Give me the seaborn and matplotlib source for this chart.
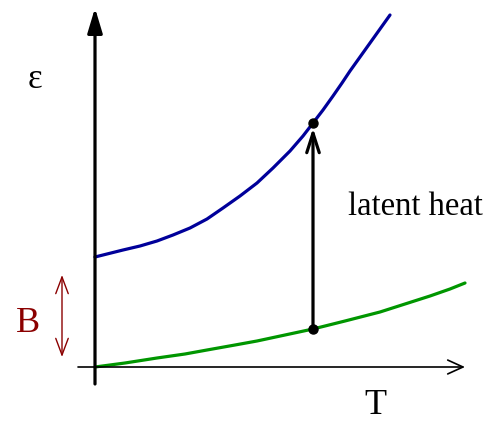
import matplotlib
matplotlib.use("Agg")
import matplotlib.pyplot as plt
import seaborn as sns
import pandas as pd

# energy curves (T, energy)
blue_T = [0.00, 0.28, 0.45, 0.62, 0.78, 0.95, 1.12, 1.28, 1.45, 1.62, 1.78, 1.95,
          2.08, 2.18, 2.28, 2.38, 2.47, 2.55, 2.65, 2.75, 2.85, 2.95]
blue_E = [1.10, 1.17, 1.21, 1.26, 1.32, 1.39, 1.48, 1.59, 1.71, 1.84, 1.99, 2.16,
          2.31, 2.44, 2.57, 2.71, 2.84, 2.96, 3.10, 3.24, 3.38, 3.52]
green_T = [0.00, 0.30, 0.62, 0.90, 1.12, 1.40, 1.62, 1.90, 2.18, 2.50, 2.85, 3.10, 3.35, 3.55, 3.70]
green_E = [0.00, 0.04, 0.09, 0.13, 0.17, 0.22, 0.26, 0.32, 0.38, 0.46, 0.55, 0.63, 0.71, 0.78, 0.84]

# transition temperature and gap B
T_c = 2.18
B_low, B_high = 0.10, 0.92

blue = pd.DataFrame({"T": blue_T, "E": blue_E})
green = pd.DataFrame({"T": green_T, "E": green_E})

sns.set_style("white")
plt.rcParams["font.family"] = ["Liberation Serif", "DejaVu Serif"]
plt.rcParams["text.color"] = "black"

fig = plt.figure(figsize=(4.91, 4.22), dpi=100)
ax = fig.add_axes([0, 0, 1, 1])
ax.set_xlim(-0.95, 3.96)
ax.set_ylim(-0.55, 3.67)
ax.axis("off")

sns.lineplot(data=blue, x="T", y="E", color="#00009a", lw=2.3, ax=ax, sort=False)
sns.lineplot(data=green, x="T", y="E", color="#009600", lw=2.3, ax=ax, sort=False)

# axes with arrows
ax.annotate("", xy=(0, 3.59), xytext=(0, -0.17),
            arrowprops=dict(arrowstyle="-|>,head_length=1.5,head_width=0.45", lw=2.3,
                            color="black", shrinkA=0, shrinkB=0))
ax.annotate("", xy=(3.70, 0), xytext=(-0.17, 0),
            arrowprops=dict(arrowstyle="->,head_length=1.1,head_width=0.5", lw=1.2,
                            color="black", shrinkA=0, shrinkB=0))

# latent heat arrow between the curves
e_low = green_E[green_T.index(T_c)]
e_high = blue_E[blue_T.index(T_c)]
ax.annotate("", xy=(T_c, e_high - 0.05), xytext=(T_c, e_low),
            arrowprops=dict(arrowstyle="->,head_length=1.4,head_width=0.45", lw=2.3,
                            color="black", shrinkA=0, shrinkB=0))
ax.plot([T_c, T_c], [e_low, e_high], "o", color="black", ms=6.5)

# B gap arrow
ax.annotate("", xy=(-0.33, B_high), xytext=(-0.33, B_low),
            arrowprops=dict(arrowstyle="<->,head_length=1.2,head_width=0.45", lw=1.0,
                            color="#8b0000", shrinkA=0, shrinkB=0))

ax.text(-0.60, 2.87, "ε", fontsize=25, ha="center", va="center")
ax.text(-0.67, 0.44, "B", fontsize=26, color="#8b0000", ha="center", va="center")
ax.text(2.80, -0.38, "T", fontsize=26, ha="center", va="center")
ax.text(2.53, 1.60, "latent heat", fontsize=23.5, ha="left", va="center")

fig.savefig("out.png", dpi=100)
